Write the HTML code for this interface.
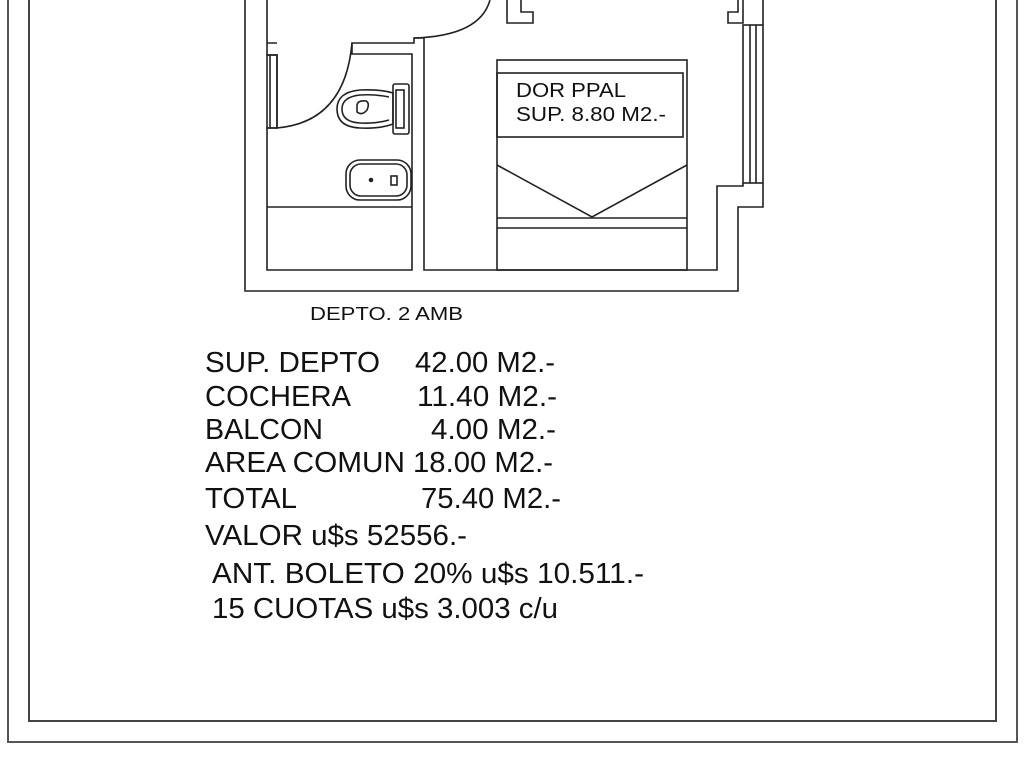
<!DOCTYPE html>
<html><head><meta charset="utf-8"><style>
html,body{margin:0;padding:0;background:#fff;width:1024px;height:768px;overflow:hidden}
svg{display:block}
text{font-family:"Liberation Sans",Arial,sans-serif;fill:#111}
</style></head><body>
<svg width="1024" height="768" viewBox="0 0 1024 768" xmlns="http://www.w3.org/2000/svg">
<g fill="none" stroke="#222" stroke-width="1.6">
<polyline points="8,0 8,742 1017,742 1017,0" stroke="#555" stroke-width="2"/>
<polyline points="29,0 29,721 996,721 996,0" stroke="#444" stroke-width="2"/>
<polyline points="245,0 245,291 738,291 738,207 763,207 763,183"/>
<rect x="743" y="25" width="20" height="158"/>
<line x1="750" y1="25" x2="750" y2="183"/><line x1="756" y1="25" x2="756" y2="183"/>
<polyline points="743,183 743,186 717,186 717,270 424,270 424,38 414,38 414,43 352,43 352,54 412,54 412,270 267,270 267,128 277,128 277,55 267,55 267,43 277,43 267,43 267,0"/>
<rect x="267" y="55" width="10" height="73"/>
<line x1="270" y1="55" x2="270" y2="128"/>
<line x1="267" y1="207" x2="412" y2="207"/>
<polyline points="507,0 507,23 533,23 533,12 521,12 521,0"/>
<polyline points="738,0 738,12 728,12 728,23 743,23 743,0"/>
<polyline points="763,0 763,25"/>
<path d="M277,128 Q345,122 352,43"/>
<path d="M414,38 Q480,36 490,0"/>
<rect x="393" y="84" width="16" height="50" rx="2"/>
<rect x="396" y="90" width="8" height="38"/>
<path d="M393,93 Q380,89 360,90 Q337,92 337,109 Q337,127 360,128 Q380,129 393,124 Z"/>
<path d="M389,97 Q375,94 360,95 Q342,97 342,109 Q342,122 360,123 Q375,124 389,120"/>
<path d="M357,106 Q357,100 366,101 Q370,103 367,110 Q362,116 357,112 Z"/>
<rect x="346" y="160" width="65" height="40" rx="14"/>
<rect x="350" y="164" width="57" height="32" rx="11"/>
<rect x="391" y="176" width="6" height="9"/>
<circle cx="371" cy="180" r="1.5" fill="#222"/>
<rect x="497" y="60" width="190" height="210"/>
<rect x="497" y="73" width="186" height="64"/>
<polyline points="497,165 592,217 687,165"/>
<line x1="497" y1="218" x2="687" y2="218"/>
<line x1="497" y1="228" x2="687" y2="228"/>
</g>
<text x="516" y="97" font-size="20" textLength="110" lengthAdjust="spacingAndGlyphs">DOR PPAL</text>
<text x="516" y="121" font-size="20" textLength="150" lengthAdjust="spacingAndGlyphs">SUP. 8.80 M2.-</text>
<text x="310" y="320" font-size="18" textLength="153" lengthAdjust="spacingAndGlyphs">DEPTO. 2 AMB</text>
<g font-size="29" lengthAdjust="spacingAndGlyphs">
<text x="205" y="372" textLength="175" lengthAdjust="spacingAndGlyphs">SUP. DEPTO</text><text x="415" y="372" textLength="140" lengthAdjust="spacingAndGlyphs">42.00 M2.-</text>
<text x="205" y="406" textLength="146" lengthAdjust="spacingAndGlyphs">COCHERA</text><text x="417" y="406" textLength="140" lengthAdjust="spacingAndGlyphs">11.40 M2.-</text>
<text x="205" y="439" textLength="118" lengthAdjust="spacingAndGlyphs">BALCON</text><text x="431" y="439" textLength="125" lengthAdjust="spacingAndGlyphs">4.00 M2.-</text>
<text x="205" y="472" textLength="200" lengthAdjust="spacingAndGlyphs">AREA COMUN</text><text x="413" y="472" textLength="140" lengthAdjust="spacingAndGlyphs">18.00 M2.-</text>
<text x="205" y="508" textLength="92" lengthAdjust="spacingAndGlyphs">TOTAL</text><text x="421" y="508" textLength="140" lengthAdjust="spacingAndGlyphs">75.40 M2.-</text>
<text x="205" y="545" textLength="262" lengthAdjust="spacingAndGlyphs">VALOR u$s 52556.-</text>
<text x="212" y="583" textLength="432" lengthAdjust="spacingAndGlyphs">ANT. BOLETO 20% u$s 10.511.-</text>
<text x="212" y="618" textLength="346" lengthAdjust="spacingAndGlyphs">15 CUOTAS u$s 3.003 c/u</text>
</g>
</svg>
</body></html>
